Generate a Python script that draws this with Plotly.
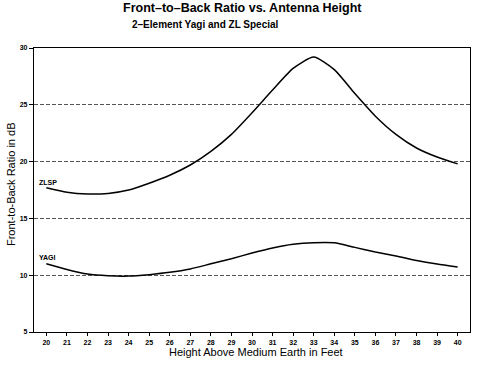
import plotly.graph_objects as go

heights = [20, 21, 22, 23, 24, 25, 26, 27, 28, 29, 30, 31, 32, 33, 34, 35, 36, 37, 38, 39, 40]
zlsp = [17.7, 17.3, 17.15, 17.2, 17.5, 18.1, 18.8, 19.7, 20.9, 22.4, 24.3, 26.3, 28.2, 29.2, 28.1, 26.0, 24.0, 22.4, 21.2, 20.4, 19.8]
yagi = [11.0, 10.5, 10.1, 9.95, 9.92, 10.05, 10.25, 10.55, 11.0, 11.45, 11.95, 12.4, 12.72, 12.86, 12.85, 12.45, 12.05, 11.7, 11.3, 10.98, 10.72]
y_ticks = [5, 10, 15, 20, 25, 30]

FONT = "Liberation Sans, Arial, sans-serif"

fig = go.Figure()
fig.add_trace(go.Scatter(x=heights, y=zlsp, mode="lines", name="ZLSP",
                         line=dict(color="black", width=1.5, shape="spline", smoothing=0.6)))
fig.add_trace(go.Scatter(x=heights, y=yagi, mode="lines", name="YAGI",
                         line=dict(color="black", width=1.5, shape="spline", smoothing=0.6)))

fig.add_annotation(x=19.55, y=18.2, text="<b>ZLSP</b>", showarrow=False, xanchor="left",
                   font=dict(family=FONT, size=7, color="black"))
fig.add_annotation(x=19.55, y=11.6, text="<b>YAGI</b>", showarrow=False, xanchor="left",
                   font=dict(family=FONT, size=7, color="black"))

# titles
fig.add_annotation(xref="paper", yref="paper", x=0.479, y=1.141, xanchor="center", yanchor="middle",
                   text="<b>Front–to–Back Ratio vs. Antenna Height</b>", showarrow=False,
                   font=dict(family=FONT, size=12.5, color="black"))
fig.add_annotation(xref="paper", yref="paper", x=0.393, y=1.081, xanchor="center", yanchor="middle",
                   text="<b>2–Element Yagi and ZL Special</b>", showarrow=False,
                   font=dict(family=FONT, size=10, color="black"))
fig.add_annotation(xref="paper", yref="paper", x=0.510, y=-0.0704, xanchor="center", yanchor="middle",
                   text="Height Above Medium Earth in Feet", showarrow=False,
                   font=dict(family=FONT, size=11, color="black"))
fig.add_annotation(xref="paper", yref="paper", x=-0.0528, y=0.521, xanchor="center", yanchor="middle",
                   text="Front-to-Back Ratio in dB", showarrow=False, textangle=-90,
                   font=dict(family=FONT, size=11, color="black"))

fig.update_layout(
    width=478, height=367,
    margin=dict(l=34, r=8, t=48, b=35),
    paper_bgcolor="white", plot_bgcolor="white",
    showlegend=False,
    font=dict(family=FONT, color="black"),
    xaxis=dict(
        range=[19.4, 40.6], tickmode="array", tickvals=heights,
        ticktext=[f"<b>{h}</b>" for h in heights],
        showgrid=False, zeroline=False,
        showline=True, linecolor="black", linewidth=1.2, mirror=True,
        ticks="outside", ticklen=3, tickcolor="black",
        tickfont=dict(family=FONT, size=7, color="black"),
    ),
    yaxis=dict(
        range=[5, 30], tickmode="array", tickvals=y_ticks,
        ticktext=[f"<b>{v}</b>" for v in y_ticks],
        showgrid=True, gridcolor="#555555", griddash="4px,2px", gridwidth=1,
        zeroline=False,
        showline=True, linecolor="black", linewidth=1.2, mirror=True,
        ticks="outside", ticklen=4, tickcolor="black",
        tickfont=dict(family=FONT, size=7, color="black"),
    ),
)

fig.write_html("out.html", config={"displayModeBar": False},
               post_script="document.body.style.margin='0';")
